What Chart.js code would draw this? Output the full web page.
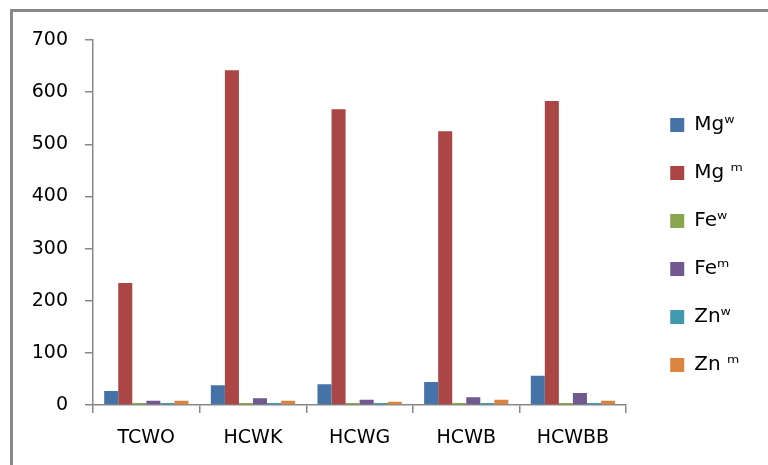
<!DOCTYPE html>
<html>
<head>
<meta charset="utf-8">
<script src="https://cdn.jsdelivr.net/npm/chart.js@4"></script>
<style>
  html, body { margin: 0; padding: 0; background: #fff; }
  #wrap { width: 768px; height: 465px; }
</style>
</head>
<body>
<div id="wrap"><canvas id="myChart"></canvas></div>
<script>
// categories + series
const categories = ["TCWO", "HCWK", "HCWG", "HCWB", "HCWBB"];
const mgW = [27, 38, 40, 44, 56];
const mgM = [234, 642, 567, 525, 583];
const feW = [4, 4, 4, 4, 4];
const feM = [8, 13, 10, 15, 23];
const znW = [4, 4, 4, 4, 4];
const znM = [8, 8, 6, 10, 8];
const yTicks = [0, 100, 200, 300, 400, 500, 600, 700];

const grey = "#888888";

// outer frame, only top and left edges are visible in the picture
const framePlugin = {
  id: "frame",
  afterLayout(chart) {
    // leave a gap between plot and legend like the original
    chart.legend.left += 16;
    chart.legend.right += 16;
  },
  afterDraw(chart) {
    const c = chart.ctx;
    c.save();
    c.strokeStyle = grey;
    c.lineWidth = 3;
    c.beginPath();
    c.moveTo(11.5, chart.height);
    c.lineTo(11.5, 10.5);
    c.lineTo(chart.width, 10.5);
    c.stroke();
    c.restore();
  }
};

function makeSet(label, data, color) {
  return { label: label, data: data, backgroundColor: color, borderWidth: 0 };
}

var ctx = document.getElementById("myChart").getContext("2d");
var myChart = new Chart(ctx, {
  type: "bar",
  data: {
    labels: categories,
    datasets: [
      makeSet("Mgʷ", mgW, "#4572A7"),
      makeSet("Mg ᵐ", mgM, "#AA4643"),
      makeSet("Feʷ", feW, "#89A54E"),
      makeSet("Feᵐ", feM, "#71588F"),
      makeSet("Znʷ", znW, "#4198AF"),
      makeSet("Zn ᵐ", znM, "#DB843D")
    ]
  },
  plugins: [framePlugin],
  options: {
    responsive: true,
    maintainAspectRatio: false,
    animation: false,
    datasets: { bar: { categoryPercentage: 0.79, barPercentage: 1.0 } },
    layout: { padding: { left: 18, top: 40, right: 31, bottom: 15 } },
    plugins: {
      tooltip: { enabled: false },
      legend: {
        position: "right",
        labels: {
          boxWidth: 14,
          boxHeight: 14,
          padding: 28,
          color: "#000",
          font: { family: "DejaVu Sans", size: 20 }
        }
      }
    },
    scales: {
      x: {
        grid: { display: true, drawOnChartArea: false, drawTicks: true, tickLength: 8, color: grey, lineWidth: 1.5 },
        border: { color: grey, width: 1.5 },
        ticks: { color: "#000", padding: 14, font: { family: "DejaVu Sans", size: 19 } },
        afterFit(scale) { scale.height = 45; }
      },
      y: {
        min: 0,
        max: 700,
        afterBuildTicks(scale) { scale.ticks = yTicks.map(v => ({ value: v })); },
        grid: { display: true, drawOnChartArea: false, drawTicks: true, tickLength: 8, color: grey, lineWidth: 1.5 },
        border: { color: grey, width: 1.5 },
        ticks: { color: "#000", padding: 17, font: { family: "DejaVu Sans", size: 19 } },
        afterFit(scale) { scale.width = 75; }
      }
    }
  }
});
</script>
</body>
</html>
